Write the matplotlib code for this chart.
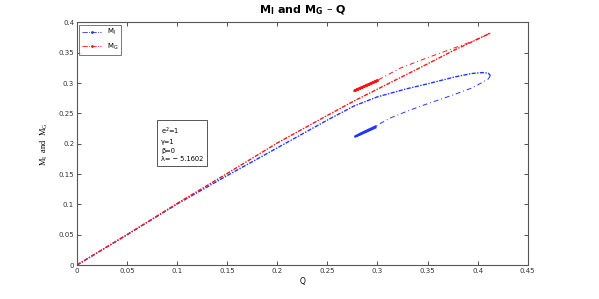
import numpy as np
import matplotlib
matplotlib.use('Agg')
import matplotlib.pyplot as plt
from matplotlib.lines import Line2D
from matplotlib.ticker import FuncFormatter

# M_I, branch from the origin up to the nose
q_mi_up = [0, 0.05, 0.1, 0.15, 0.172, 0.2, 0.25, 0.277, 0.3, 0.329, 0.35, 0.3614,
           0.3776, 0.3938, 0.405, 0.4107, 0.4127]
mi_up = [0, 0.05, 0.1005, 0.1475, 0.1675, 0.1932, 0.239, 0.2625, 0.2773, 0.2905, 0.2987,
         0.3035, 0.3102, 0.3157, 0.3173, 0.3162, 0.3124]
# M_I, return branch
q_mi_low = [0.4127, 0.4107, 0.405, 0.3938, 0.3776, 0.3614, 0.3451, 0.3289, 0.3127,
            0.3029, 0.298]
mi_low = [0.3124, 0.3069, 0.3014, 0.2916, 0.2817, 0.2724, 0.2631, 0.2532, 0.2423,
          0.2335, 0.2285]
# M_I, hook at the end
q_mi_hook = [0.298, 0.2899, 0.2818, 0.2776, 0.2834, 0.2916, 0.298]
mi_hook = [0.2285, 0.2222, 0.2158, 0.2118, 0.2155, 0.2218, 0.2266]

# M_G
q_mg_up = [0, 0.05, 0.1, 0.15, 0.2, 0.25, 0.277, 0.3, 0.35, 0.3776, 0.4, 0.4127]
mg_up = [0, 0.05, 0.1015, 0.151, 0.2012, 0.2467, 0.2708, 0.29, 0.3316, 0.3551,
         0.3723, 0.3825]
q_mg_low = [0.4127, 0.3938, 0.3776, 0.3484, 0.3224, 0.2997]
mg_low = [0.3825, 0.3682, 0.3584, 0.3409, 0.3244, 0.3042]
q_mg_hook = [0.2997, 0.277, 0.2997]
mg_hook = [0.3042, 0.2872, 0.3035]

blue = '#2236ff'
red = '#ff1414'

fig = plt.figure(figsize=(5.99, 2.99), dpi=100)
ax = fig.add_axes([0.1285, 0.1137, 0.7525, 0.8113])

ax.plot(q_mi_up, mi_up, color=blue, lw=1.0, dashes=(3, 1, 1, 1))
ax.plot(q_mi_low, mi_low, color=blue, lw=0.7, dashes=(5, 3, 1, 3))
ax.plot(q_mi_hook, mi_hook, color=blue, lw=1.5)

ax.plot(q_mg_up, mg_up, color=red, lw=1.0, dashes=(3, 1, 1, 1))
ax.plot(q_mg_low, mg_low, color=red, lw=0.7, dashes=(5, 3, 1, 3))
ax.plot(q_mg_hook, mg_hook, color=red, lw=1.8)

ax.set_xlim(0, 0.45)
ax.set_ylim(0, 0.4)
ax.set_xticks(np.arange(0, 0.451, 0.05))
ax.set_yticks(np.arange(0, 0.401, 0.05))
fmt = FuncFormatter(lambda v, p: '%g' % round(v, 2))
ax.xaxis.set_major_formatter(fmt)
ax.yaxis.set_major_formatter(fmt)
ax.tick_params(direction='in', length=3, width=0.6, labelsize=5, top=True, right=True,
               colors='#333333', pad=2)
for s in ax.spines.values():
    s.set_color('#555555')
    s.set_linewidth(0.8)

ax.set_xlabel('Q', fontsize=5.5, labelpad=2)
ax.set_ylabel('$\\mathregular{M_I}$  and  $\\mathregular{M_G}$', fontsize=6,
              family='Liberation Serif', labelpad=6)
ax.set_title('$\\mathbf{M_I}$ and $\\mathbf{M_G}$ \u2013 Q', fontsize=8, fontweight='bold',
             pad=7)

h1 = Line2D([], [], color=blue, ls='-.', lw=0.6, marker='.', ms=2)
h2 = Line2D([], [], color=red, ls='-.', lw=0.6, marker='.', ms=2)
leg = ax.legend(handles=[h1, h2], labels=['$\\mathregular{M_I}$', '$\\mathregular{M_G}$'],
                loc='upper left', fontsize=5, frameon=True, fancybox=False, borderpad=0.4,
                handlelength=2.8, labelspacing=0.6, borderaxespad=0.3)
leg.get_frame().set_edgecolor('#555555')
leg.get_frame().set_linewidth(0.7)

ax.text(0.084, 0.2, '$\\mathregular{e^2}$=1\n\u03b3=1\n\u03b2=0\n\u03bb= \u2212 5.1602',
        fontsize=4.8, va='center', ha='left', linespacing=1.5,
        bbox=dict(boxstyle='square,pad=0.6', facecolor='white', edgecolor='#555555',
                  linewidth=0.7))

fig.savefig('out.png', dpi=100)
